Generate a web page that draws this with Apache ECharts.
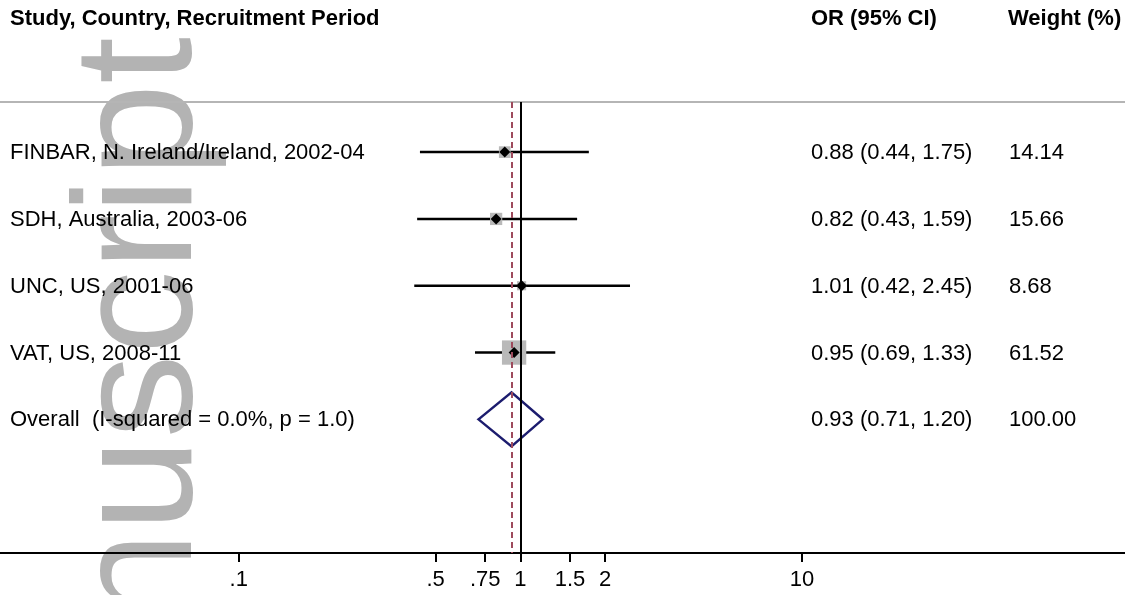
<!DOCTYPE html>
<html><head><meta charset="utf-8">
<script src="https://cdn.jsdelivr.net/npm/echarts@6/dist/echarts.min.js"></script>
<style>html,body{margin:0;padding:0;background:#fff}#c{width:1125px;height:595px}</style>
</head><body><div id="c"></div>
<script>
// ---- data ----
const studies = ['FINBAR, N. Ireland/Ireland, 2002-04', 'SDH, Australia, 2003-06', 'UNC, US, 2001-06', 'VAT, US, 2008-11'];
const orValues = [0.88, 0.82, 1.01, 0.95];
const ciLower = [0.44, 0.43, 0.42, 0.69];
const ciUpper = [1.75, 1.59, 2.45, 1.33];
const weights = [14.14, 15.66, 8.68, 61.52];
const overallLabel = 'Overall  (I-squared = 0.0%, p = 1.0)';
const overallOR = [0.93];
const overallLower = [0.71];
const overallUpper = [1.20];
const overallWeight = [100.00];
const tickValues = [0.1, 0.5, 0.75, 1, 1.5, 2, 10];
const tickLabels = ['.1', '.5', '.75', '1', '1.5', '2', '10'];
const headers = ['Study, Country, Recruitment Period', 'OR (95% CI)', 'Weight (%)'];
const watermark = 'Manuscript';

// ---- styles ----
const FAM = '"Liberation Sans", Arial, Helvetica, sans-serif';
const FONT = '22px ' + FAM;
const BOLD = 'bold 22px ' + FAM;
const X_STUDY = 10, X_OR = 811, X_W = 1009;

function ciText(o, l, h) { return o.toFixed(2) + ' (' + l.toFixed(2) + ', ' + h.toFixed(2) + ')'; }
function labelFor(v) {
  for (let i = 0; i < tickValues.length; i++) {
    if (Math.abs(v - tickValues[i]) / tickValues[i] < 1e-6) return tickLabels[i];
  }
  return '';
}

function rowTexts(y, a, b, c) {
  return [
    {type: 'text', x: X_STUDY, y: y + 1, style: {text: a, font: FONT, fill: '#000', align: 'left', verticalAlign: 'middle'}},
    {type: 'text', x: X_OR, y: y + 1, style: {text: b, font: FONT, fill: '#000', align: 'left', verticalAlign: 'middle'}},
    {type: 'text', x: X_W, y: y + 1, style: {text: c, font: FONT, fill: '#000', align: 'left', verticalAlign: 'middle'}}
  ];
}

function renderStudy(params, api) {
  const row = api.value(0), o = api.value(1), l = api.value(2), h = api.value(3), w = api.value(4);
  const pc = api.coord([o, row]), pl = api.coord([l, row]), ph = api.coord([h, row]);
  const y = pc[1];
  const s = 3.1 * Math.sqrt(w);
  const i = params.dataIndex;
  return {type: 'group', children: [
    {type: 'line', shape: {x1: pl[0], y1: y, x2: ph[0], y2: y}, style: {stroke: '#000', lineWidth: 2.5}},
    {type: 'rect', shape: {x: pc[0] - s / 2, y: y - s / 2, width: s, height: s}, style: {fill: '#b9b9b9'}},
    {type: 'polygon', z2: 20, shape: {points: [[pc[0] - 5.5, y], [pc[0], y - 5.5], [pc[0] + 5.5, y], [pc[0], y + 5.5]]}, style: {fill: '#000'}}
  ].concat(rowTexts(y, studies[i], ciText(o, l, h), w.toFixed(2)))};
}

function renderOverall(params, api) {
  const row = api.value(0), o = api.value(1), l = api.value(2), h = api.value(3), w = api.value(4);
  const pc = api.coord([o, row]), pl = api.coord([l, row]), ph = api.coord([h, row]);
  const y = pc[1];
  return {type: 'group', children: [
    {type: 'polygon', shape: {points: [[pl[0], y], [pc[0], y - 27], [ph[0], y], [pc[0], y + 27]]},
      style: {fill: 'none', stroke: '#1c1c6e', lineWidth: 2.5}}
  ].concat(rowTexts(y, overallLabel, ciText(o, l, h), w.toFixed(2)))};
}

const chart = echarts.init(document.getElementById('c'), null, {renderer: 'canvas'});
chart.setOption({
  animation: false,
  backgroundColor: '#fff',
  grid: {left: 0, right: 0, top: 102, bottom: 42, containLabel: false},
  xAxis: {
    type: 'log', logBase: 10, min: 0.01421, max: 140.1,
    axisLine: {show: true, onZero: false, lineStyle: {color: '#000', width: 2}},
    axisTick: {show: true, customValues: tickValues, length: 9, lineStyle: {color: '#000', width: 2}},
    axisLabel: {show: true, customValues: tickValues, formatter: labelFor, margin: 16,
      color: '#000', fontSize: 22, fontFamily: FAM},
    splitLine: {show: false}, minorTick: {show: false}
  },
  yAxis: {type: 'value', inverse: true, min: -0.75, max: 6, show: false, splitLine: {show: false}},
  graphic: [
    {type: 'text', z: -10, x: 145, y: 37, rotation: Math.PI / 2,
      style: {text: watermark, font: '168px ' + FAM, fill: '#b3b3b3', align: 'right', verticalAlign: 'middle'}},
    {type: 'text', x: X_STUDY, y: 19, style: {text: headers[0], font: BOLD, fill: '#000', align: 'left', verticalAlign: 'middle'}},
    {type: 'text', x: X_OR, y: 19, style: {text: headers[1], font: BOLD, fill: '#000', align: 'left', verticalAlign: 'middle'}},
    {type: 'text', x: 1008, y: 19, style: {text: headers[2], font: BOLD, fill: '#000', align: 'left', verticalAlign: 'middle'}}
  ],
  series: [
    {type: 'custom', renderItem: renderStudy, encode: {x: [1, 2, 3], y: 0},
      data: studies.map((s, i) => [i, orValues[i], ciLower[i], ciUpper[i], weights[i]])},
    {type: 'custom', renderItem: renderOverall, encode: {x: [1, 2, 3], y: 0},
      data: overallOR.map((o, i) => [studies.length, o, overallLower[i], overallUpper[i], overallWeight[i]])},
    {type: 'scatter', data: [], z: 5,
      markLine: {silent: true, symbol: ['none', 'none'], label: {show: false}, animation: false,
        data: [
          {yAxis: -0.75, lineStyle: {color: '#b5b5b5', width: 2, type: 'solid'}},
          {xAxis: 1, lineStyle: {color: '#000', width: 2, type: 'solid'}},
          {xAxis: overallOR[0], lineStyle: {color: '#9e4a5c', width: 2, type: [6, 4]}}
        ]}}
  ]
});
</script></body></html>
